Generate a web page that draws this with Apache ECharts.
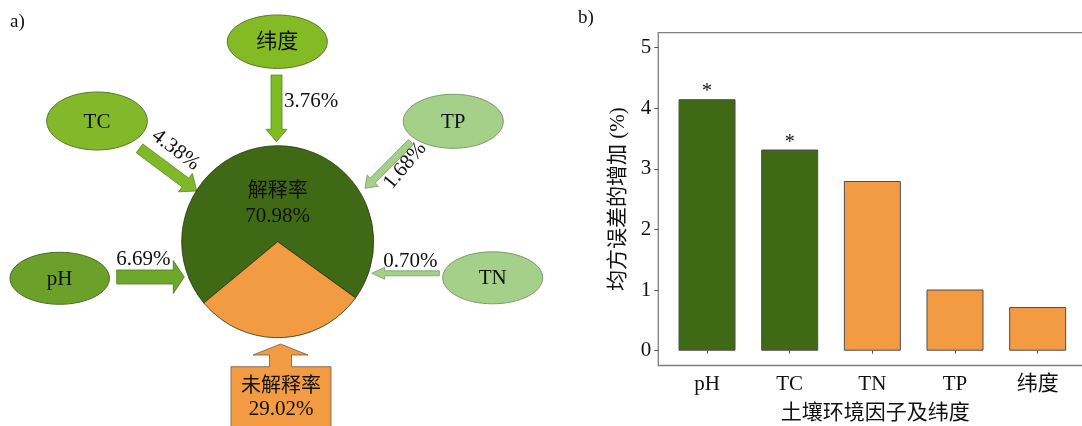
<!DOCTYPE html>
<html>
<head>
<meta charset="utf-8">
<script src="https://cdn.jsdelivr.net/npm/echarts@6/dist/echarts.min.js"></script>
<style>
  html, body { margin: 0; padding: 0; background: #ffffff; }
  #chart { width: 1082px; height: 426px; }
</style>
</head>
<body>
<div id="chart"></div>
<script>
// Panel b: increase in mean squared error per factor
const factorNames = ['pH', 'TC', 'TN', 'TP', '纬度'];
const mseIncrease = [4.15, 3.32, 2.80, 1.01, 0.72];
const significance = ['*', '*', '', '', ''];

// Panel a: explained / unexplained variance and the share of each driver
const pieNames = ['解释率', '未解释率'];
const pieValues = [70.98, 29.02];
const driverNames = ['pH', 'TC', '纬度', 'TP', 'TN'];
const driverShares = [6.69, 4.38, 3.76, 1.68, 0.70];

const SERIF = "'Liberation Serif', 'Times New Roman', 'Noto Sans CJK SC', serif";
const INK = '#111111';
const DARK_GREEN = '#3f6914';
const ORANGE = '#f29b43';

// Diagram layout (panel a): node ellipses
const nodeStyle = {
  'pH':  { cx: 59.7,  cy: 278.3, rx: 49.7, ry: 26,   fill: '#6ba12b', stroke: '#4c6a27' },
  'TC':  { cx: 97,    cy: 121,   rx: 50.3, ry: 29,   fill: '#82b82a', stroke: '#587a2a' },
  '纬度': { cx: 277.3, cy: 41.7,  rx: 50,   ry: 26.7, fill: '#84bb25', stroke: '#587a2a' },
  'TP':  { cx: 453.3, cy: 121.3, rx: 50,   ry: 27,   fill: '#a4d08a', stroke: '#7b9a69' },
  'TN':  { cx: 492.7, cy: 277.8, rx: 50,   ry: 26,   fill: '#a4d08a', stroke: '#7b9a69' }
};

// Diagram layout (panel a): arrows pointing at the pie and their share labels
const arrowStyle = {
  'pH':  { from: [116.7, 277], to: [184.3, 277], shaft: 14, head: 33, headLen: 11,
           fill: '#6ea82b', stroke: '#4f7423',
           label: { x: 143.3, y: 259.3, rot: 0, align: 'center' } },
  'TC':  { from: [139.5, 148.3], to: [196.7, 191], shaft: 11, head: 23, headLen: 14,
           fill: '#80b928', stroke: '#5c8424',
           label: { x: 175.7, y: 150, rot: -37, align: 'center' } },
  '纬度': { from: [276.5, 75], to: [276.5, 141.7], shaft: 11, head: 21, headLen: 12.4,
           fill: '#80bb22', stroke: '#5c8424',
           label: { x: 284, y: 101.7, rot: 0, align: 'left' } },
  'TP':  { from: [411, 142], to: [365, 188.3], shaft: 7, head: 16, headLen: 11,
           fill: '#a4d08a', stroke: '#7b9a69',
           label: { x: 405, y: 165.7, rot: 50, align: 'center' } },
  'TN':  { from: [439.3, 273.3], to: [371.7, 273.3], shaft: 5, head: 12, headLen: 13,
           fill: '#a4d08a', stroke: '#7b9a69',
           label: { x: 410.3, y: 261.7, rot: 0, align: 'center' } }
};

const PIE_CENTER = [277.7, 241.7];
const PIE_RADIUS = 96;

function arrowPoints(from, to, shaft, head, headLen) {
  const dx = to[0] - from[0], dy = to[1] - from[1];
  const len = Math.hypot(dx, dy);
  const ux = dx / len, uy = dy / len;
  const nx = -uy, ny = ux;
  const bx = to[0] - ux * headLen, by = to[1] - uy * headLen;
  const s = shaft / 2, h = head / 2;
  return [
    [from[0] + nx * s, from[1] + ny * s],
    [bx + nx * s, by + ny * s],
    [bx + nx * h, by + ny * h],
    [to[0], to[1]],
    [bx - nx * h, by - ny * h],
    [bx - nx * s, by - ny * s],
    [from[0] - nx * s, from[1] - ny * s]
  ];
}

const pct = v => v.toFixed(2) + '%';
const graphics = [];

// panel tags
graphics.push({ type: 'text', x: 10, y: 22, style: { text: 'a)', fontSize: 19, fontFamily: SERIF, fill: INK, align: 'left', verticalAlign: 'middle' } });
graphics.push({ type: 'text', x: 578, y: 18, style: { text: 'b)', fontSize: 19, fontFamily: SERIF, fill: INK, align: 'left', verticalAlign: 'middle' } });

// arrows with their share labels
driverNames.forEach((name, i) => {
  const a = arrowStyle[name];
  graphics.push({
    type: 'polygon', z: 1,
    shape: { points: arrowPoints(a.from, a.to, a.shaft, a.head, a.headLen) },
    style: { fill: a.fill, stroke: a.stroke, lineWidth: 0.8 }
  });
  graphics.push({
    type: 'text', z: 3, x: a.label.x, y: a.label.y, rotation: a.label.rot * Math.PI / 180,
    style: { text: pct(driverShares[i]), fontSize: 21, fontFamily: SERIF, fill: INK,
             align: a.label.align, verticalAlign: 'middle' }
  });
});

// driver nodes
driverNames.forEach(name => {
  const n = nodeStyle[name];
  graphics.push({
    type: 'ellipse', z: 2,
    shape: { cx: n.cx, cy: n.cy, rx: n.rx, ry: n.ry },
    style: { fill: n.fill, stroke: n.stroke, lineWidth: 1 }
  });
  graphics.push({
    type: 'text', z: 3, x: n.cx, y: n.cy + 1,
    style: { text: name, fontSize: 21, fontFamily: SERIF, fill: INK, align: 'center', verticalAlign: 'middle' }
  });
});

// text of the explained slice
graphics.push({ type: 'text', z: 10, x: PIE_CENTER[0], y: 191.7,
  style: { text: pieNames[0], fontSize: 20, fontFamily: SERIF, fill: INK, align: 'center', verticalAlign: 'middle' } });
graphics.push({ type: 'text', z: 10, x: PIE_CENTER[0], y: 216,
  style: { text: pct(pieValues[0]), fontSize: 21, fontFamily: SERIF, fill: INK, align: 'center', verticalAlign: 'middle' } });

// callout for the unexplained part
const cx = 280.5;
graphics.push({
  type: 'polygon', z: 1,
  shape: { points: [
    [231, 430], [231, 366.7], [cx - 11, 366.7], [cx - 11, 355], [cx - 27.5, 355], [cx, 344],
    [cx + 27.5, 355], [cx + 11, 355], [cx + 11, 366.7], [331, 366.7], [331, 430]
  ] },
  style: { fill: ORANGE, stroke: '#6d5a45', lineWidth: 0.8 }
});
graphics.push({ type: 'text', z: 3, x: 281, y: 386.7,
  style: { text: pieNames[1], fontSize: 20, fontFamily: SERIF, fill: INK, align: 'center', verticalAlign: 'middle' } });
graphics.push({ type: 'text', z: 3, x: 281, y: 409.3,
  style: { text: pct(pieValues[1]), fontSize: 21, fontFamily: SERIF, fill: INK, align: 'center', verticalAlign: 'middle' } });

const chart = echarts.init(document.getElementById('chart'), null, { renderer: 'canvas' });

chart.setOption({
  animation: false,
  backgroundColor: '#ffffff',
  graphic: { elements: graphics },
  grid: [
    // frame of panel b
    { left: 658.3, right: -3, top: 32.7, bottom: 60.5, show: true,
      borderColor: '#7f7f7f', borderWidth: 1.3, backgroundColor: 'transparent', outerBoundsMode: 'none' },
    // plotting region of the bars
    { left: 665.7, right: 3, top: 47.7, bottom: 75.3, outerBoundsMode: 'none' }
  ],
  xAxis: [
    { gridIndex: 0, type: 'value', show: false, min: 0, max: 1 },
    {
      gridIndex: 1, type: 'category', data: factorNames, offset: 14.8,
      axisLine: { show: false },
      axisTick: { show: true, alignWithLabel: true, length: 3, lineStyle: { color: '#555555', width: 1 } },
      axisLabel: { fontSize: 21, fontFamily: SERIF, color: INK, margin: 8, lineHeight: 21 },
      name: '土壤环境因子及纬度', nameLocation: 'middle', nameGap: 37,
      nameTextStyle: { fontSize: 21, fontFamily: SERIF, color: INK, lineHeight: 21, padding: [0, 0, 0, 6] }
    }
  ],
  yAxis: [
    { gridIndex: 0, type: 'value', show: false, min: 0, max: 1 },
    {
      gridIndex: 1, type: 'value', min: 0, max: 5, interval: 1, offset: 7.4,
      axisLine: { show: false },
      splitLine: { show: false },
      axisTick: { show: true, length: 4, lineStyle: { color: '#555555', width: 1 } },
      axisLabel: { fontSize: 21, fontFamily: SERIF, color: INK, margin: 7 },
      name: '均方误差的增加 (%)', nameLocation: 'middle', nameGap: 29.5,
      nameTextStyle: { fontSize: 21, fontFamily: SERIF, color: INK }
    }
  ],
  series: [
    {
      type: 'pie', z: 2,
      center: PIE_CENTER, radius: PIE_RADIUS,
      startAngle: 219.7, clockwise: true,
      label: { show: false }, labelLine: { show: false },
      emphasis: { disabled: true },
      itemStyle: { borderColor: '#27350f', borderWidth: 0.8 },
      data: pieNames.map((name, i) => ({
        name, value: pieValues[i],
        itemStyle: { color: i === 0 ? DARK_GREEN : ORANGE }
      }))
    },
    {
      type: 'bar', xAxisIndex: 1, yAxisIndex: 1,
      barWidth: 57,
      itemStyle: { borderColor: '#4d4d4d', borderWidth: 1 },
      label: {
        show: true, position: 'top', distance: -3,
        formatter: p => significance[p.dataIndex],
        fontSize: 20, fontFamily: SERIF, color: INK
      },
      data: mseIncrease.map((v, i) => ({
        value: v,
        itemStyle: { color: significance[i] ? DARK_GREEN : ORANGE }
      }))
    }
  ]
});
</script>
</body>
</html>
